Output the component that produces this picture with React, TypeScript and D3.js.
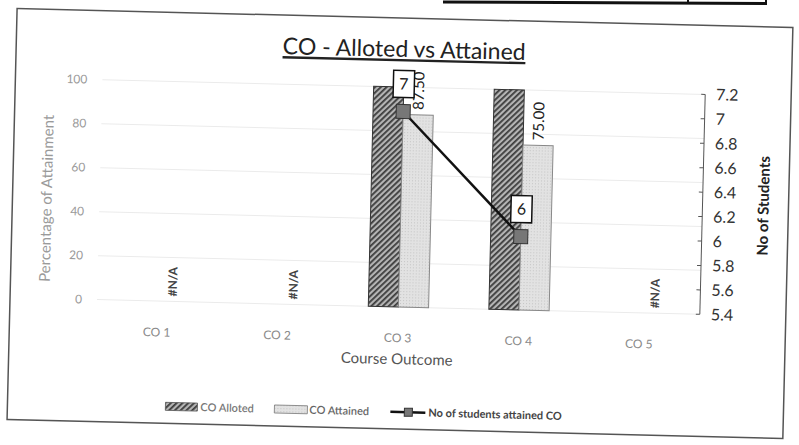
import React from 'react';
import * as d3 from 'd3';

const categories = ['CO 1', 'CO 2', 'CO 3', 'CO 4', 'CO 5'];
const allotted: (number | null)[] = [null, null, 100, 100, null];
const attained: (number | null)[] = [null, null, 87.5, 75, null];
const attainedLabels = ['#N/A', '#N/A', '87.50', '75.00', '#N/A'];
const students: (number | null)[] = [null, null, 7, 6, null];
const leftTicks = [0, 20, 40, 60, 80, 100];
const rightTicks = [5.4, 5.6, 5.8, 6, 6.2, 6.4, 6.6, 6.8, 7, 7.2];

const W = 799;
const H = 445;
const FONT = 'Lato, "Open Sans", sans-serif';

export default function App() {
  const x = d3.scaleBand<string>().domain(categories).range([99, 702]).paddingInner(0.5).paddingOuter(0.25);
  const yL = d3.scaleLinear().domain([0, 100]).range([307, 87]);
  const yR = d3.scaleLinear().domain([5.4, 7.2]).range([307, 87]);
  const bw = x.bandwidth() / 2;
  const cx = (c: string) => (x(c) as number) + x.bandwidth() / 2;

  const linePts = categories
    .map((c, i) => ({ c, v: students[i] }))
    .filter((d) => d.v != null) as { c: string; v: number }[];
  const line = d3
    .line<{ c: string; v: number }>()
    .x((d) => cx(d.c))
    .y((d) => yR(d.v));

  return (
    <div style={{ position: 'fixed', left: 0, top: 0 }}>
      <svg width={W} height={H} style={{ display: 'block', background: '#fff' }}>
        <defs>
          <pattern id="hatch" width="4" height="4" patternUnits="userSpaceOnUse" patternTransform="rotate(45)">
            <rect width="4" height="4" fill="#b4b4b4" />
            <rect width="1.8" height="4" fill="#3c3c3c" />
          </pattern>
          <pattern id="dots" width="3" height="3" patternUnits="userSpaceOnUse">
            <rect width="3" height="3" fill="#e2e2e2" />
            <rect width="1" height="1" fill="#c4c4c4" />
          </pattern>
        </defs>

        {/* page table fragment above the chart */}
        <line x1={443} y1={2} x2={767} y2={3.5} stroke="#111" strokeWidth={3} />
        <line x1={688} y1={0} x2={688} y2={3} stroke="#111" strokeWidth={2} />
        <line x1={766} y1={0} x2={766} y2={5} stroke="#111" strokeWidth={2} />

        <g transform="rotate(1.4 400 222)">
          <rect x={12} y={18} width={776} height={411} fill="none" stroke="#555" strokeWidth={1.5} />

          <text x={400} y={57} textAnchor="middle" fontFamily={FONT} fontSize={23} fill="#222" textDecoration="underline">
            CO - Alloted vs Attained
          </text>

          {/* gridlines */}
          {leftTicks.map((t) => (
            <line key={t} x1={99} x2={702} y1={yL(t)} y2={yL(t)} stroke="#ebebeb" strokeWidth={1} />
          ))}

          {/* left tick labels */}
          {leftTicks.map((t) => (
            <text key={t} x={84} y={yL(t)} dy="0.35em" textAnchor="end" fontFamily={FONT} fontSize={12} fill="#9a9a9a">
              {t}
            </text>
          ))}
          <text
            transform={`translate(46,207) rotate(-90)`}
            textAnchor="middle"
            dy="0.35em"
            fontFamily={FONT}
            fontSize={15}
            fill="#9a9a9a"
          >
            Percentage of Attainment
          </text>

          {/* bars */}
          {categories.map((c, i) =>
            allotted[i] != null ? (
              <rect
                key={'a' + c}
                x={x(c)}
                y={yL(allotted[i] as number)}
                width={bw}
                height={yL(0) - yL(allotted[i] as number)}
                fill="url(#hatch)"
                stroke="#333"
                strokeWidth={1}
              />
            ) : null
          )}
          {categories.map((c, i) =>
            attained[i] != null ? (
              <rect
                key={'t' + c}
                x={(x(c) as number) + bw}
                y={yL(attained[i] as number)}
                width={bw}
                height={yL(0) - yL(attained[i] as number)}
                fill="url(#dots)"
                stroke="#888"
                strokeWidth={1}
              />
            ) : null
          )}

          {/* attained labels */}
          {categories.map((c, i) => {
            const lx = (x(c) as number) + bw * 1.5;
            const v = attained[i];
            const isNA = v == null;
            const ly = isNA ? yL(0) - 5 : yL(v as number) - 5;
            return (
              <text
                key={'l' + c}
                transform={`translate(${lx},${ly}) rotate(-90)`}
                dy="0.35em"
                textAnchor="start"
                fontFamily={FONT}
                fontSize={isNA ? 12 : 15}
                fontWeight={isNA ? 700 : 400}
                fill={isNA ? '#444' : '#222'}
              >
                {attainedLabels[i]}
              </text>
            );
          })}

          {/* right axis */}
          <line x1={702} x2={702} y1={yR(5.4)} y2={yR(7.2)} stroke="#555" strokeWidth={1} />
          {rightTicks.map((t) => (
            <g key={t}>
              <line x1={698} x2={702} y1={yR(t)} y2={yR(t)} stroke="#555" />
              <text x={713} y={yR(t)} dy="0.35em" fontFamily={FONT} fontSize={16} fill="#333">
                {d3.format('~g')(t)}
              </text>
            </g>
          ))}
          <text
            transform={`translate(763,${(yR(5.4) + yR(7.2)) / 2}) rotate(-90)`}
            textAnchor="middle"
            dy="0.35em"
            fontFamily={FONT}
            fontSize={15}
            fontWeight={700}
            fill="#222"
          >
            No of Students
          </text>

          {/* line series */}
          <path d={line(linePts) || ''} fill="none" stroke="#111" strokeWidth={2.5} />
          {linePts.map((d) => (
            <rect key={'m' + d.c} x={cx(d.c) - 7} y={yR(d.v) - 7} width={14} height={14} fill="#777" stroke="#333" strokeWidth={1} />
          ))}
          {linePts.map((d) => (
            <g key={'b' + d.c}>
              <rect x={cx(d.c) - 10.5} y={yR(d.v) - 41} width={21} height={27} fill="#fff" stroke="#111" strokeWidth={1.5} />
              <text x={cx(d.c)} y={yR(d.v) - 27.5} dy="0.35em" textAnchor="middle" fontFamily={FONT} fontSize={16} fill="#222">
                {d.v}
              </text>
            </g>
          ))}

          {/* category labels */}
          {categories.map((c) => (
            <text key={'c' + c} x={cx(c)} y={338} dy="0.35em" textAnchor="middle" fontFamily={FONT} fontSize={12} fill="#8a8a8a">
              {c}
            </text>
          ))}
          <text x={400} y={359} dy="0.35em" textAnchor="middle" fontFamily={FONT} fontSize={15} fill="#555">
            Course Outcome
          </text>

          {/* legend */}
          <rect x={170} y={408} width={32} height={8} fill="url(#hatch)" stroke="#555" strokeWidth={0.8} />
          <text x={205} y={412} dy="0.35em" fontFamily={FONT} fontSize={11} fontWeight={600} fill="#777">
            CO Alloted
          </text>
          <rect x={279} y={408} width={33} height={8} fill="url(#dots)" stroke="#777" strokeWidth={0.8} />
          <text x={314} y={412} dy="0.35em" fontFamily={FONT} fontSize={11} fontWeight={600} fill="#666">
            CO Attained
          </text>
          <line x1={395} x2={430} y1={412} y2={412} stroke="#111" strokeWidth={2.5} />
          <rect x={409} y={408} width={8} height={8} fill="#777" stroke="#333" strokeWidth={1} />
          <text x={433} y={412} dy="0.35em" fontFamily={FONT} fontSize={11} fontWeight={700} fill="#444">
            No of students attained  CO
          </text>
        </g>
      </svg>
    </div>
  );
}
